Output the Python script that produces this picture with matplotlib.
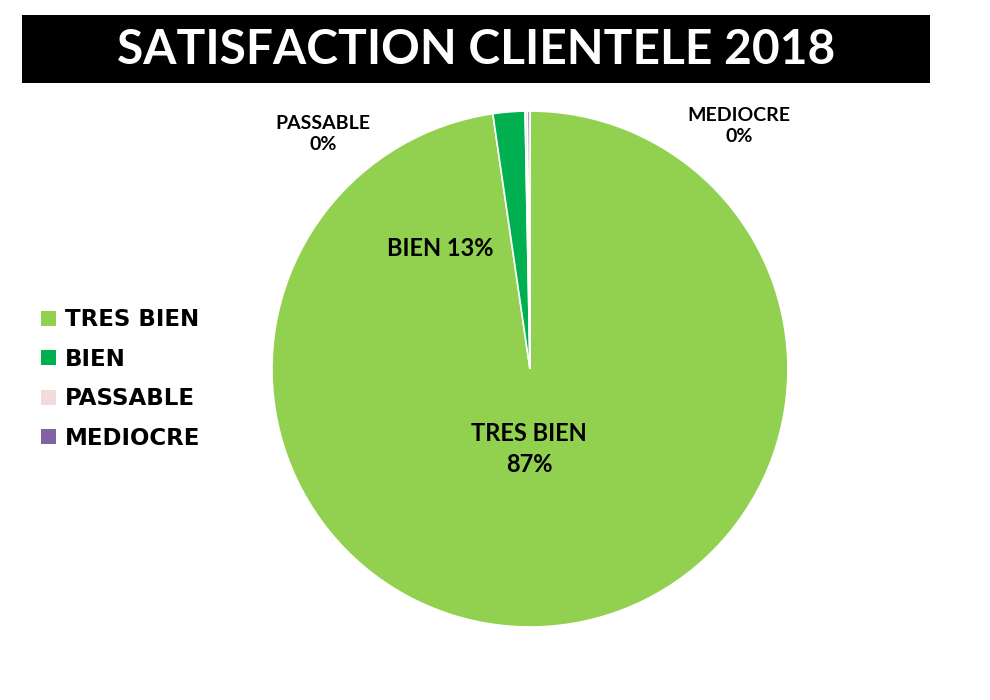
import matplotlib.pyplot as plt
from matplotlib.patches import Rectangle

categories = ['TRES BIEN', 'BIEN', 'PASSABLE', 'MEDIOCRE']
# wedge sizes as drawn in the picture (the printed labels do not match them)
sizes = [97.7, 2.0, 0.15, 0.15]
shown_pct = ['87%', '13%', '0%', '0%']
colors = ['#92D050', '#00B050', '#F2DCDB', '#8064A2']

fig = plt.figure(figsize=(9.9, 7.0), dpi=100)
fig.patch.set_facecolor('white')

# black title band
fig.patches.append(Rectangle((0.0222, 0.8814), 0.9172, 0.0971, transform=fig.transFigure,
                             facecolor='black', edgecolor='none'))
fig.text(0.481, 0.929, 'SATISFACTION CLIENTELE 2018', color='white', fontsize=34.5,
         fontweight='bold', family='Lato', ha='center', va='center')

ax = fig.add_axes([0.2747, 0.1043, 0.5212, 0.7371])
wedges, _ = ax.pie(sizes, colors=colors, startangle=90, counterclock=False,
                   wedgeprops=dict(edgecolor='white', linewidth=1.2))
ax.set_xlim(-1, 1)
ax.set_ylim(-1, 1)
ax.set_aspect('equal')

lbl = dict(family='Lato', fontweight='bold', ha='center', va='center', color='black')
fig.text(529/990, 1 - 449/700, categories[0] + '\n' + shown_pct[0], fontsize=17,
         linespacing=1.4, **lbl)
fig.text(440/990, 1 - 248/700, categories[1] + ' ' + shown_pct[1], fontsize=17, **lbl)
fig.text(323/990, 1 - 134/700, categories[2] + '\n' + shown_pct[2], fontsize=14,
         linespacing=1.3, **lbl)
fig.text(739/990, 1 - 126/700, categories[3] + '\n' + shown_pct[3], fontsize=14,
         linespacing=1.3, **lbl)

leg = fig.legend(wedges, categories, loc='center left', bbox_to_anchor=(0.021, 1 - 379/700),
                 frameon=False, handlelength=0.62, handleheight=0.62, handletextpad=0.4,
                 labelspacing=0.72,
                 prop=dict(family='DejaVu Sans', weight='heavy', size=16.5))
for h in leg.legend_handles:
    h.set_edgecolor('none')

fig.savefig('out.png', dpi=100)
